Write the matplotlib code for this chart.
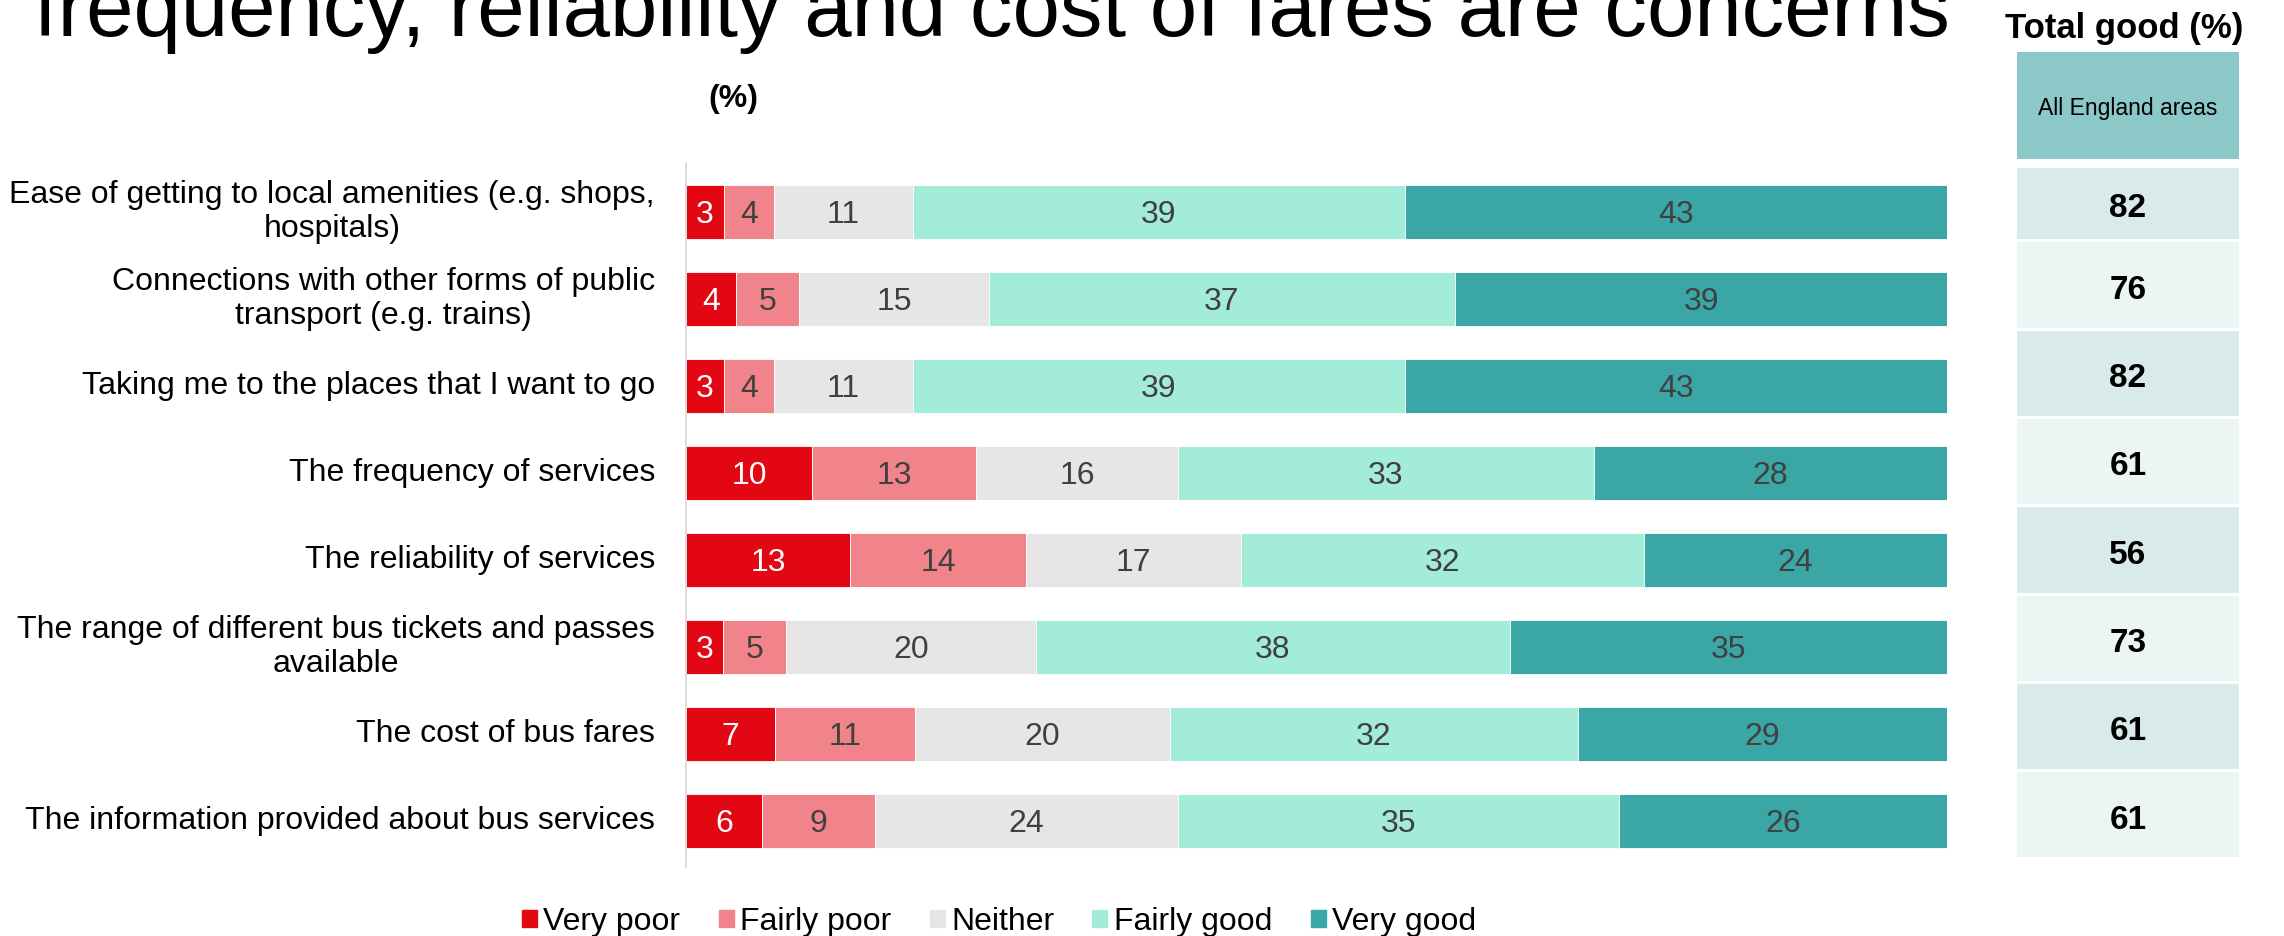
import matplotlib
matplotlib.use('Agg')
import matplotlib.pyplot as plt
from matplotlib.patches import Rectangle, Patch
import matplotlib.transforms as mtransforms

plt.rcParams['font.family'] = ['Liberation Sans', 'DejaVu Sans']

# dane
kategorie = [
    'Ease of getting to local amenities (e.g. shops,\nhospitals)',
    'Connections with other forms of public\ntransport (e.g. trains)',
    'Taking me to the places that I want to go',
    'The frequency of services',
    'The reliability of services',
    'The range of different bus tickets and passes\navailable',
    'The cost of bus fares',
    'The information provided about bus services',
]
very_poor = [3, 4, 3, 10, 13, 3, 7, 6]
fairly_poor = [4, 5, 4, 13, 14, 5, 11, 9]
neither = [11, 15, 11, 16, 17, 20, 20, 24]
fairly_good = [39, 37, 39, 33, 32, 38, 32, 35]
very_good = [43, 39, 43, 28, 24, 35, 29, 26]
total_good = [82, 76, 82, 61, 56, 73, 61, 61]

serie = ['Very poor', 'Fairly poor', 'Neither', 'Fairly good', 'Very good']
wartosci = [very_poor, fairly_poor, neither, fairly_good, very_good]
kolory = ['#e30613', '#f1848a', '#e6e6e6', '#a3ecd9', '#3aa6a6']

tytul = 'frequency, reliability and cost of fares are concerns'

W, H = 2284, 936
fig = plt.figure(figsize=(W / 100, H / 100), dpi=100)

# wykres słupkowy skumulowany (każdy wiersz do 100%)
ax = fig.add_axes([686 / W, 1 - 867 / H, 1261 / W, 704 / H])
y = list(range(len(kategorie)))
sumy = [sum(r) for r in zip(*wartosci)]
lewo = [0] * len(kategorie)
for s, vals, kol in zip(serie, wartosci, kolory):
    szer = [v * 100 / t for v, t in zip(vals, sumy)]
    ax.barh(y, szer, left=lewo, height=0.62, color=kol, edgecolor='white', linewidth=0.6)
    for i, v in enumerate(vals):
        kolor_txt = 'white' if s == 'Very poor' else '#404040'
        ax.text(lewo[i] + szer[i] / 2, i, str(v), ha='center', va='center_baseline',
                color=kolor_txt, fontsize=23)
    lewo = [a + b for a, b in zip(lewo, szer)]

ax.set_xlim(0, 100)
ax.set_ylim(7.53, -0.563)
ax.set_xticks([])
ax.set_yticks([])
for sp in ['top', 'right', 'bottom']:
    ax.spines[sp].set_visible(False)
ax.spines['left'].set_color('#d9d9d9')
ax.spines['left'].set_linewidth(1.3)

# etykiety kategorii
tr = mtransforms.blended_transform_factory(ax.transAxes, ax.transData)
for i, k in enumerate(kategorie):
    ax.text(-0.0246, i, k, transform=tr, ha='right', va='center',
            multialignment='center', linespacing=1.15, fontsize=23)

fig.text(733 / W, 1 - 99 / H, '(%)', ha='center', va='center',
         fontsize=23, fontweight='bold')
fig.text(34 / W, 1 - 36 / H, tytul, ha='left', va='baseline', fontsize=61.3)

# tabelka "Total good"
ax_t = fig.add_axes([2017 / W, 1 - 860 / H, 222 / W, 808 / H])
ax_t.set_xlim(0, 1)
ax_t.set_ylim(7.512, -1.639)
ax_t.axis('off')
ax_t.add_patch(Rectangle((0, -1.639), 1, -0.427 + 1.639, color='#8bc8c7', lw=0))
ax_t.text(0.5, (-1.639 - 0.427) / 2, 'All England areas', ha='center',
          va='center_baseline', fontsize=16.5)
for i, v in enumerate(total_good):
    gora = -0.325 if i == 0 else i - 0.483
    dol = i + 0.483
    kol = '#d9eaea' if i % 2 == 0 else '#ebf5f4'
    ax_t.add_patch(Rectangle((0, gora), 1, dol - gora, color=kol, lw=0))
    ax_t.text(0.5, (gora + dol) / 2 + 0.02, str(v), ha='center', va='center_baseline',
              fontsize=24, fontweight='bold')

fig.text(2124 / W, 1 - 38 / H, 'Total good (%)', ha='center', va='baseline',
         fontsize=25, fontweight='bold')

# legenda
uchwyty = [Patch(color=k, label=s) for s, k in zip(serie, kolory)]
fig.legend(handles=uchwyty, loc='center', bbox_to_anchor=(999 / W, 1 - 922 / H),
           ncol=5, frameon=False, fontsize=23, handlelength=0.47, handleheight=0.47,
           handletextpad=0.2, columnspacing=1.2, borderpad=0, borderaxespad=0)

fig.savefig('out.png', dpi=100)
